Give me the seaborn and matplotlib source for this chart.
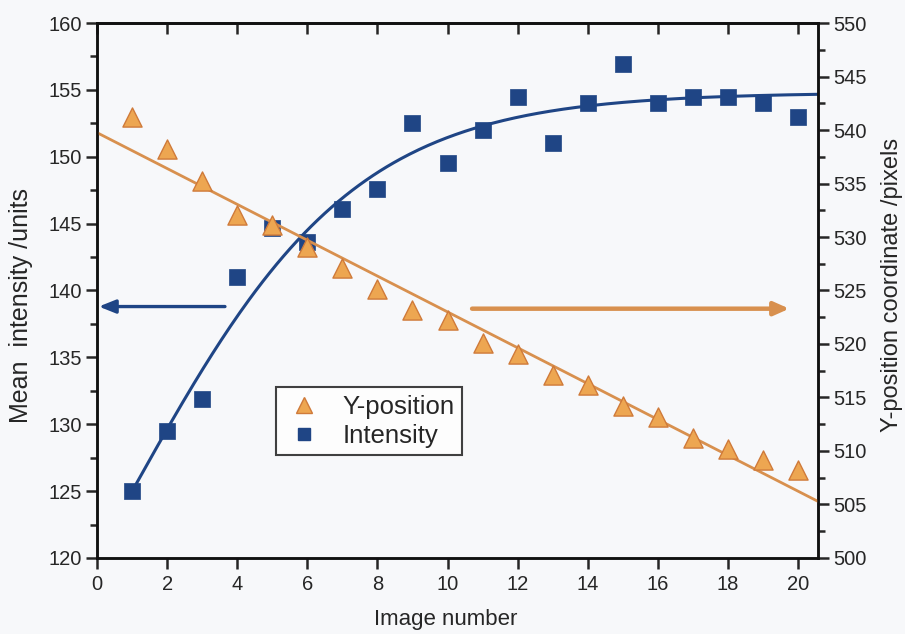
import numpy as np
import pandas as pd
import matplotlib
matplotlib.use("Agg")
import matplotlib.pyplot as plt
from matplotlib.lines import Line2D
import seaborn as sns

# ---- data ----
image_number = [1, 2, 3, 4, 5, 6, 7, 8, 9, 10, 11, 12, 13, 14, 15, 16, 17, 18, 19, 20]
intensity = [125.0, 129.5, 131.9, 141.0, 144.7, 143.6, 146.1, 147.6, 152.5, 149.5,
             152.0, 154.5, 151.0, 154.0, 156.9, 154.0, 154.5, 154.5, 154.0, 153.0]
y_position = [541.2, 538.2, 535.2, 532.1, 531.1, 529.1, 527.1, 525.1, 523.2, 522.2,
              520.1, 519.1, 517.1, 516.2, 514.2, 513.2, 511.2, 510.2, 509.2, 508.2]
# sigmoidal (Boltzmann) fit of intensity, parameters
fit_A1, fit_A2, fit_x0, fit_dx = 94.8, 154.8, 0.96, 3.2
xticks = [0, 2, 4, 6, 8, 10, 12, 14, 16, 18, 20]
left_ticks = [120, 125, 130, 135, 140, 145, 150, 155, 160]
right_ticks = [500, 505, 510, 515, 520, 525, 530, 535, 540, 545, 550]

sns.set_style("ticks")
plt.rcParams["font.family"] = ["Liberation Sans", "DejaVu Sans"]

BLUE = "#1f4585"
ORANGE_FACE = "#eda651"
ORANGE_EDGE = "#cf7a3a"
LINE_OR = "#d8904e"
BG = "#f7f8fa"

fig = plt.figure(figsize=(9.05, 6.34), dpi=100, facecolor=BG)
ax = fig.add_axes([0.1072, 0.1199, 0.9039 - 0.1072, 0.9637 - 0.1199])
ax.set_facecolor(BG)
ax2 = ax.twinx()

XMAX = 20.57
df = pd.DataFrame({"x": image_number, "intensity": intensity, "ypos": y_position})

# intensity fit curve
xf = np.linspace(1, XMAX, 300)
yf = fit_A2 + (fit_A1 - fit_A2) / (1 + np.exp((xf - fit_x0) / fit_dx))
sns.lineplot(x=xf, y=yf, ax=ax, color=BLUE, lw=2.2, zorder=2)
sns.scatterplot(data=df, x="x", y="intensity", ax=ax, marker="s", s=125,
                color=BLUE, edgecolor=BLUE, linewidth=0.5, zorder=3)

# linear fit for y-position
k, b = np.polyfit(df["x"], df["ypos"], 1)
xl = np.array([0, XMAX])
sns.lineplot(x=xl, y=k * xl + b, ax=ax2, color=LINE_OR, lw=2.0, zorder=2)
sns.scatterplot(data=df, x="x", y="ypos", ax=ax2, marker="^", s=190,
                color=ORANGE_FACE, edgecolor=ORANGE_EDGE, linewidth=1.0, zorder=3)

# arrows
ax.annotate("", xy=(0.05, 138.8), xytext=(3.65, 138.8),
            arrowprops=dict(arrowstyle="-|>,head_length=1.0,head_width=0.4",
                            color=BLUE, lw=2.4, shrinkA=0, shrinkB=0))
ax2.annotate("", xy=(19.75, 523.3), xytext=(10.7, 523.3),
             arrowprops=dict(arrowstyle="-|>,head_length=0.9,head_width=0.4",
                             color=LINE_OR, lw=3.2, shrinkA=0, shrinkB=0))

# axes limits and ticks
ax.set_xlim(0, XMAX)
ax.set_ylim(120, 160)
ax2.set_ylim(500, 550)
ax.set_xticks(xticks)
ax.set_yticks(left_ticks)
ax2.set_yticks(right_ticks)
ax.set_yticks(np.arange(122.5, 160, 5), minor=True)
ax2.set_yticks(np.arange(502.5, 550, 5), minor=True)

for a in (ax, ax2):
    for s in a.spines.values():
        s.set_visible(True)
        s.set_linewidth(1.8)
        s.set_color("#111111")

TL = 14.5
ax.tick_params(axis="x", which="major", direction="out", length=8, width=1.8,
               labelsize=TL, top=False, pad=4)
ax.tick_params(axis="y", which="major", direction="out", length=8, width=1.8,
               labelsize=TL, pad=3, right=False)
ax.tick_params(axis="y", which="minor", direction="out", length=5, width=1.8, right=False)
ax2.tick_params(axis="y", which="major", direction="out", length=8, width=1.8,
                labelsize=TL, pad=3)
ax2.tick_params(axis="y", which="minor", direction="out", length=5, width=1.8)

# top ticks pointing inward
top = ax.secondary_xaxis("top")
top.set_xticks(xticks)
top.tick_params(direction="in", length=8, width=1.8, labeltop=False)
top.spines["top"].set_linewidth(1.8)

ax.set_xlabel("Image number", fontsize=16)
ax.xaxis.set_label_coords(0.483, -0.095)
ax.set_ylabel("Mean  intensity /units", fontsize=18)
ax.yaxis.set_label_coords(-0.089, 0.472)
ax2.set_ylabel("Y-position coordinate /pixels", fontsize=17, rotation=90)
ax2.yaxis.set_label_coords(1.088, 0.51)

# legend
handles = [
    Line2D([], [], marker="^", ls="none", markersize=11, markerfacecolor=ORANGE_FACE,
           markeredgecolor=ORANGE_EDGE, label="Y-position"),
    Line2D([], [], marker="s", ls="none", markersize=8.5, markerfacecolor=BLUE,
           markeredgecolor=BLUE, label="Intensity"),
]
leg = ax2.legend(handles=handles, loc="upper left", bbox_to_anchor=(0.248, 0.32),
                 fontsize=18.5, frameon=True, fancybox=False, edgecolor="#111111",
                 handletextpad=0.7, borderpad=0.3, labelspacing=0.2,
                 handlelength=1.6, borderaxespad=0)
leg.get_frame().set_linewidth(1.5)
leg.get_frame().set_facecolor("white")

ax.grid(False)
ax2.grid(False)
fig.savefig("out.png", dpi=100, facecolor=BG)
